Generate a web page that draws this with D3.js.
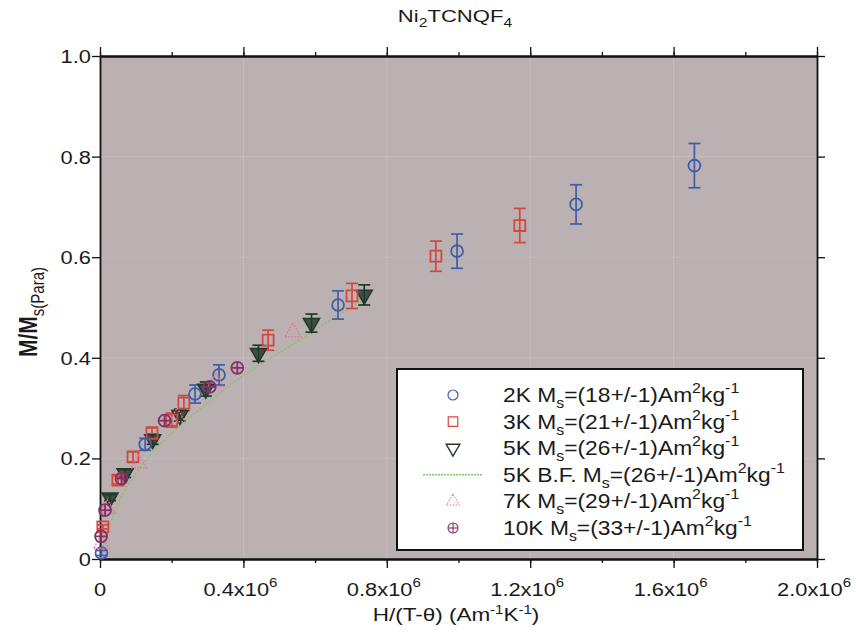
<!DOCTYPE html>
<html lang="en">
<head>
<meta charset="utf-8">
<script src="https://cdn.jsdelivr.net/npm/d3@7"></script>
<style>
    body { margin: 0; background: #fff; }
    svg text { font-family: "Liberation Sans", Arial, sans-serif; fill: #1a1a1a; }
    .axis path, .axis line { stroke: #111; }
</style>
</head>
<body>
<script>
// values; x in A m^-1 K^-1, y is M/Ms
const x2K = [0.004e6, 0.126e6, 0.265e6, 0.332e6, 0.664e6, 0.996e6, 1.328e6, 1.658e6];
const y2K = [0.012, 0.228, 0.328, 0.366, 0.505, 0.612, 0.705, 0.782];
const e2K = [0.005, 0.012, 0.018, 0.02, 0.028, 0.034, 0.039, 0.044];

const x3K = [0.008e6, 0.05e6, 0.092e6, 0.145e6, 0.2e6, 0.234e6, 0.469e6, 0.703e6, 0.937e6, 1.171e6];
const y3K = [0.064, 0.157, 0.203, 0.25, 0.276, 0.31, 0.435, 0.523, 0.602, 0.663];
const e3K = [0.004, 0.008, 0.01, 0.012, 0.014, 0.015, 0.02, 0.025, 0.03, 0.034];

const x5K = [0.028e6, 0.07e6, 0.147e6, 0.223e6, 0.295e6, 0.442e6, 0.59e6, 0.737e6];
const y5K = [0.122, 0.17, 0.238, 0.286, 0.338, 0.409, 0.469, 0.525];
const e5K = [0.006, 0.008, 0.01, 0.012, 0.014, 0.016, 0.018, 0.02];

const xFit = [0, 0.02e6, 0.05e6, 0.1e6, 0.15e6, 0.2e6, 0.3e6, 0.4e6, 0.5e6, 0.6e6, 0.7e6, 0.75e6];
const yFit = [0, 0.05, 0.11, 0.17, 0.215, 0.25, 0.31, 0.365, 0.41, 0.455, 0.5, 0.52];

const x7K = [0.004e6, 0.02e6, 0.108e6, 0.215e6, 0.323e6, 0.538e6];
const y7K = [0.03, 0.1, 0.19, 0.282, 0.352, 0.451];

const x10K = [0.003e6, 0.014e6, 0.06e6, 0.18e6, 0.306e6, 0.383e6];
const y10K = [0.045, 0.097, 0.16, 0.275, 0.342, 0.38];

const xTicks = [0, 0.4e6, 0.8e6, 1.2e6, 1.6e6, 2.0e6];
const xTickLabels = ["0", "0.4x10", "0.8x10", "1.2x10", "1.6x10", "2.0x10"];
const yTicks = [0, 0.2, 0.4, 0.6, 0.8, 1.0];
const yTickLabels = ["0", "0.2", "0.4", "0.6", "0.8", "1.0"];

const legendNames = ["2K", "3K", "5K", "5K B.F.", "7K", "10K"];
const legendMs = ["18", "21", "26", "26", "29", "33"];

const w = 856, h = 639;
const svg = d3.select("body").append("svg").attr("width", w).attr("height", h);

const xScale = d3.scaleLinear().domain([0, 2.0e6]).range([100, 817]);
const yScale = d3.scaleLinear().domain([0, 1.0]).range([559, 56]);

// the scanned figure is stretched sideways, so text gets a horizontal scale
const stretched = (x, y, sx) => svg.append("text")
    .attr("transform", "translate(" + x + "," + y + ") scale(" + sx + ",1)");

// plot background
svg.append("rect")
    .attr("x", xScale(0)).attr("y", yScale(1))
    .attr("width", xScale(2.0e6) - xScale(0))
    .attr("height", yScale(0) - yScale(1))
    .attr("fill", "#bcb1b2");

// faint grid
svg.append("g").selectAll("line")
    .data(xTicks.slice(1, -1))
    .enter().append("line")
    .attr("x1", (d) => xScale(d)).attr("x2", (d) => xScale(d))
    .attr("y1", yScale(0)).attr("y2", yScale(1))
    .attr("stroke", "#c5bcbd").attr("stroke-width", 1);
svg.append("g").selectAll("line")
    .data(yTicks.slice(1, -1))
    .enter().append("line")
    .attr("x1", xScale(0)).attr("x2", xScale(2.0e6))
    .attr("y1", (d) => yScale(d)).attr("y2", (d) => yScale(d))
    .attr("stroke", "#c5bcbd").attr("stroke-width", 1);

// axes, ticks outward on all sides
const minorX = d3.range(0, 2.0e6 + 1, 0.2e6);
const addAxis = (axis, tr) => {
    const g = svg.append("g").attr("class", "axis").attr("transform", tr).call(axis);
    g.selectAll("path").attr("stroke-width", 1.8);
    g.selectAll("line").attr("stroke-width", 1.3);
    g.selectAll("text").remove();
    return g;
};
addAxis(d3.axisBottom(xScale).tickValues(minorX).tickSize(4).tickSizeOuter(0), "translate(0," + yScale(0) + ")");
addAxis(d3.axisBottom(xScale).tickValues(xTicks).tickSize(9).tickSizeOuter(0), "translate(0," + yScale(0) + ")");
addAxis(d3.axisTop(xScale).tickValues(minorX).tickSize(4).tickSizeOuter(0), "translate(0," + yScale(1) + ")");
addAxis(d3.axisTop(xScale).tickValues(xTicks).tickSize(9).tickSizeOuter(0), "translate(0," + yScale(1) + ")");
addAxis(d3.axisLeft(yScale).tickValues(yTicks).tickSize(8).tickSizeOuter(0), "translate(" + xScale(0) + ",0)");
addAxis(d3.axisRight(yScale).tickValues(yTicks).tickSize(8).tickSizeOuter(0), "translate(" + xScale(2.0e6) + ",0)");

// tick labels
yTicks.forEach((d, i) => {
    stretched(xScale(0) - 9, yScale(d) + 7, 1.15)
        .attr("text-anchor", "end")
        .attr("font-size", "19px")
        .text(yTickLabels[i]);
});

xTicks.forEach((d, i) => {
    const t = stretched(xScale(d) + (d > 0 ? -3 : 0), 596, 1.15)
        .attr("text-anchor", "middle")
        .attr("font-size", "19px");
    t.append("tspan").text(xTickLabels[i]);
    if (d > 0) t.append("tspan").attr("dy", -9).attr("font-size", "13px").text("6");
});

// titles
const title = stretched(455, 22, 1.3).attr("text-anchor", "middle").attr("font-size", "17px");
title.append("tspan").text("Ni");
title.append("tspan").attr("dy", 5).attr("font-size", "12px").text("2");
title.append("tspan").attr("dy", -5).text("TCNQF");
title.append("tspan").attr("dy", 5).attr("font-size", "12px").text("4");

const xt = stretched(456, 621, 1.25).attr("text-anchor", "middle").attr("font-size", "18px");
xt.append("tspan").text("H/(T-\u03b8) (Am");
xt.append("tspan").attr("dy", -7).attr("font-size", "12px").text("-1");
xt.append("tspan").attr("dy", 7).text("K");
xt.append("tspan").attr("dy", -7).attr("font-size", "12px").text("-1");
xt.append("tspan").attr("dy", 7).text(")");

const yt = svg.append("text")
    .attr("transform", "translate(37,312) rotate(-90) scale(1,1.2)")
    .attr("text-anchor", "middle").attr("font-size", "21px").attr("font-weight", "bold");
yt.append("tspan").text("M/M");
yt.append("tspan").attr("dy", 6).attr("font-size", "15px").attr("font-weight", "normal").text("s(Para)");

// error bars
const errorBars = (xs, ys, es, color) => {
    const g = svg.append("g").attr("stroke", color).attr("stroke-width", 1.7);
    xs.forEach((x, i) => {
        const cx = xScale(x);
        g.append("line").attr("x1", cx).attr("x2", cx)
            .attr("y1", yScale(ys[i] - es[i])).attr("y2", yScale(ys[i] + es[i]));
        g.append("line").attr("x1", cx - 6).attr("x2", cx + 6)
            .attr("y1", yScale(ys[i] - es[i])).attr("y2", yScale(ys[i] - es[i]));
        g.append("line").attr("x1", cx - 6).attr("x2", cx + 6)
            .attr("y1", yScale(ys[i] + es[i])).attr("y2", yScale(ys[i] + es[i]));
    });
};

const c2K = "#3f5ea8", c3K = "#d2483f", c5K = "#213a28", cFit = "#8cc36a", c7K = "#ee6f92", c10K = "#86306a";

// fit line
svg.append("path")
    .datum(xFit.map((x, i) => [x, yFit[i]]))
    .attr("fill", "none")
    .attr("stroke", cFit).attr("stroke-width", 1.6)
    .attr("stroke-dasharray", "2,2")
    .attr("d", d3.line().x((d) => xScale(d[0])).y((d) => yScale(d[1])).curve(d3.curveMonotoneX));

errorBars(x5K, y5K, e5K, c5K);
errorBars(x3K, y3K, e3K, c3K);
errorBars(x2K, y2K, e2K, c2K);

const sym = {
    circle: d3.symbol().type(d3.symbolCircle).size(110),
    square: d3.symbol().type(d3.symbolSquare).size(120),
    tri: d3.symbol().type(d3.symbolTriangle).size(110)
};

// 5K down triangles
svg.append("g").selectAll("path")
    .data(x5K).enter().append("path")
    .attr("d", sym.tri())
    .attr("transform", (d, i) => "translate(" + xScale(d) + "," + yScale(y5K[i]) + ") rotate(180)")
    .attr("fill", c5K).attr("fill-opacity", 0.8)
    .attr("stroke", c5K).attr("stroke-width", 1.6);

// 3K squares
svg.append("g").selectAll("path")
    .data(x3K).enter().append("path")
    .attr("d", sym.square())
    .attr("transform", (d, i) => "translate(" + xScale(d) + "," + yScale(y3K[i]) + ")")
    .attr("fill", "none").attr("stroke", c3K).attr("stroke-width", 1.8);

// 2K circles
svg.append("g").selectAll("path")
    .data(x2K).enter().append("path")
    .attr("d", sym.circle())
    .attr("transform", (d, i) => "translate(" + xScale(d) + "," + yScale(y2K[i]) + ")")
    .attr("fill", "none").attr("stroke", c2K).attr("stroke-width", 1.8);

// 7K up triangles, dotted
svg.append("g").selectAll("path")
    .data(x7K).enter().append("path")
    .attr("d", sym.tri())
    .attr("transform", (d, i) => "translate(" + xScale(d) + "," + yScale(y7K[i]) + ")")
    .attr("fill", "none").attr("stroke", c7K).attr("stroke-width", 1.4)
    .attr("stroke-dasharray", "1.5,1.5");

// 10K crossed circles
const g10 = svg.append("g").selectAll("g")
    .data(x10K).enter().append("g")
    .attr("transform", (d, i) => "translate(" + xScale(d) + "," + yScale(y10K[i]) + ")")
    .attr("stroke", c10K).attr("stroke-width", 1.8).attr("fill", "none");
g10.append("circle").attr("r", 6);
g10.append("line").attr("x1", -6).attr("x2", 6);
g10.append("line").attr("y1", -6).attr("y2", 6);

// legend
const lg = svg.append("g");
lg.append("rect")
    .attr("x", 397).attr("y", 369).attr("width", 406).attr("height", 181)
    .attr("fill", "#fff").attr("stroke", "#111").attr("stroke-width", 2);

const rowY = d3.range(legendNames.length).map((i) => 395 + i * 26.6);
const symX = 453;
lg.append("circle").attr("cx", symX).attr("cy", rowY[0]).attr("r", 5)
    .attr("fill", "none").attr("stroke", c2K).attr("stroke-width", 1.2);
lg.append("path").attr("d", d3.symbol().type(d3.symbolSquare).size(90)())
    .attr("transform", "translate(" + symX + "," + rowY[1] + ")")
    .attr("fill", "none").attr("stroke", c3K).attr("stroke-width", 1.2);
lg.append("path").attr("d", d3.symbol().type(d3.symbolTriangle).size(80)())
    .attr("transform", "translate(" + symX + "," + rowY[2] + ") rotate(180)")
    .attr("fill", "none").attr("stroke", c5K).attr("stroke-width", 1.4);
lg.append("line").attr("x1", 423).attr("x2", 483).attr("y1", rowY[3]).attr("y2", rowY[3])
    .attr("stroke", cFit).attr("stroke-width", 1.4).attr("stroke-dasharray", "2,1");
lg.append("path").attr("d", d3.symbol().type(d3.symbolTriangle).size(70)())
    .attr("transform", "translate(" + symX + "," + rowY[4] + ")")
    .attr("fill", "none").attr("stroke", c7K).attr("stroke-width", 1.1)
    .attr("stroke-dasharray", "1.5,1.5");
const l10 = lg.append("g").attr("transform", "translate(" + symX + "," + rowY[5] + ")")
    .attr("stroke", c10K).attr("stroke-width", 1.1).attr("fill", "none");
l10.append("circle").attr("r", 5);
l10.append("line").attr("x1", -5).attr("x2", 5);
l10.append("line").attr("y1", -5).attr("y2", 5);

legendNames.forEach((name, i) => {
    const t = lg.append("text")
        .attr("transform", "translate(503," + (rowY[i] + 7) + ") scale(1.14,1)")
        .attr("font-size", "20px");
    t.append("tspan").text(name + " M");
    t.append("tspan").attr("dy", 6).attr("font-size", "14px").text("s");
    t.append("tspan").attr("dy", -6).text("=(" + legendMs[i] + "+/-1)Am");
    t.append("tspan").attr("dy", -9).attr("font-size", "14px").text("2");
    t.append("tspan").attr("dy", 9).text("kg");
    t.append("tspan").attr("dy", -9).attr("font-size", "14px").text("-1");
});
</script>
</body>
</html>
